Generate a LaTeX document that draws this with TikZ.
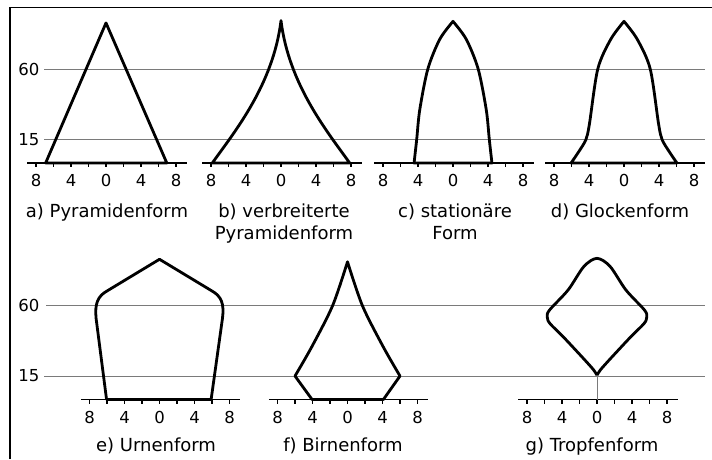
\documentclass[tikz,border=0pt]{standalone}
\usepackage{fontspec}
\setmainfont{DejaVu Sans}
\usepackage{xcolor}
\definecolor{agegray}{HTML}{7A7A7A}

% x axis of one age pyramid, ticks every 2, labels every 4
\newcommand{\ageaxis}[1]{%
  \draw[baseaxis] (-9,0) -- (9.2,0);
  \foreach \t in {-8,-6,...,8}
    \draw[baseaxis] (\t,0) -- ++(0,-4pt);
  \foreach \t/\v in {-8/8,-4/4,0/0,4/4,8/8}
    \node[ticklabel] (#1t\t) at ([yshift=-23.5pt]\t,0) {\v};
}

\begin{document}
\begin{tikzpicture}[x=1pt,y=1pt,
    outline/.style={line width=2.8pt,line join=round},
    ageline/.style={agegray,line width=0.8pt},
    baseaxis/.style={line width=1.2pt},
    ticklabel/.style={font=\fontsize{16.5}{16.5}\selectfont,anchor=base,inner sep=0pt},
    agelabel/.style={font=\fontsize{16.5}{16.5}\selectfont,anchor=east,inner sep=0pt},
    caption/.style={font=\fontsize{18}{22}\selectfont,anchor=base,align=center,inner sep=0pt}]
  \useasboundingbox (0,0) rectangle (712,459);

  % frame
  \draw[line width=1.4pt] (10,0) -- (10,451.7) -- (712,451.7);

  % upper row
  \begin{scope}[yshift=296pt,y=1.565pt]
    \draw[ageline] (44,60) -- (705,60);
    \draw[ageline] (44,15) -- (705,15);
    \node[agelabel] (up60) at (39.5,60) {60};
    \node[agelabel] (up15) at (39.5,15) {15};

    % a) pyramid
    \begin{scope}[xshift=106pt,x=8.75pt]
      \ageaxis{a}
      \draw[outline] (-6.9,0) -- (0,89.5) -- (6.95,0) -- cycle;
      \node[caption] (capa) at ([xshift=1pt,yshift=-54pt]0,0) {a) Pyramidenform};
    \end{scope}

    % b) wide pyramid
    \begin{scope}[xshift=281pt,x=8.75pt]
      \ageaxis{b}
      \draw[outline] (-7.85,0) .. controls (-5.3,20) and (-0.9,50) .. (0,91)
        .. controls (0.9,50) and (5.3,20) .. (7.85,0) -- cycle;
      % base of a two-line node is its last line
      \node[caption] (capb) at ([xshift=3pt,yshift=-76pt]0,0) {b) verbreiterte\\Pyramidenform};
    \end{scope}

    % c) stationary
    \begin{scope}[xshift=453pt,x=8.75pt]
      \ageaxis{c}
      \draw[outline] plot[smooth] coordinates {(-4.45,0) (-4.15,15) (-3.8,34) (-2.88,60) (-1.52,79) (0,90.5)}
        -- plot[smooth] coordinates {(0,90.5) (1.52,79) (2.88,60) (3.8,34) (4.15,15) (4.45,0)} -- cycle;
      \node[caption] (capc) at ([xshift=2pt,yshift=-76pt]0,0) {c) stationäre\\Form};
    \end{scope}

    % d) bell
    \begin{scope}[xshift=624pt,x=8.75pt]
      \ageaxis{d}
      \draw[outline] plot[smooth] coordinates {(-6.05,0) (-5.2,7) (-4.35,15) (-3.95,25) (-3.0,60) (-1.52,79) (0,90.5)}
        -- plot[smooth] coordinates {(0,90.5) (1.52,79) (3.0,60) (3.95,25) (4.35,15) (5.2,7) (6.05,0)} -- cycle;
      \node[caption] (capd) at ([xshift=-4pt,yshift=-54pt]0,0) {d) Glockenform};
    \end{scope}
  \end{scope}

  % lower row
  \begin{scope}[yshift=59.5pt,y=1.565pt]
    \draw[ageline] (46,60) -- (705,60);
    \draw[ageline] (44,15) -- (705,15);
    \node[agelabel] (lo60) at (39.5,60) {60};
    \node[agelabel] (lo15) at (39.5,15) {15};

    % e) urn
    \begin{scope}[xshift=159.5pt,x=8.75pt]
      \ageaxis{e}
      \draw[outline] (-6.05,0) -- (-7.25,52) .. controls (-7.4,61) and (-7.1,66) .. (-5.95,69.5)
        -- (0,89.6) -- (5.95,69.5) .. controls (7.1,66) and (7.4,61) .. (7.2,52) -- (5.9,0) -- cycle;
      \node[caption] (cape) at ([xshift=-3.5pt,yshift=-51.5pt]0,0) {e) Urnenform};
    \end{scope}

    % f) pear
    \begin{scope}[xshift=347.5pt,x=8.75pt]
      \ageaxis{f}
      \draw[outline] (-4.05,0) -- plot[smooth] coordinates {(-6,15) (-4.05,34) (-1.7,60) (0,88)}
        -- plot[smooth] coordinates {(0,88) (1.7,60) (4.05,34) (6,15)} -- (4.1,0) -- cycle;
      \node[caption] (capf) at ([xshift=-4.5pt,yshift=-51.5pt]0,0) {f) Birnenform};
    \end{scope}

    % g) drop
    \begin{scope}[xshift=597pt,x=8.75pt]
      \ageaxis{g}
      \draw[ageline] (0,0) -- (0,15);
      \draw[outline] plot[smooth] coordinates {(0,15.5) (-0.4,19) (-1.6,26.5) (-3.85,40) (-5.37,48.5)
        (-5.68,52.5) (-5.45,57) (-3.3,70) (-1.5,85) (0,90.2) (1.5,85) (3.3,70) (5.45,57)
        (5.68,52.5) (5.37,48.5) (3.85,40) (1.6,26.5) (0.4,19) (0,15.5)};
      \node[caption] (capg) at ([xshift=-5pt,yshift=-51.5pt]0,0) {g) Tropfenform};
    \end{scope}
  \end{scope}
\end{tikzpicture}
\end{document}
